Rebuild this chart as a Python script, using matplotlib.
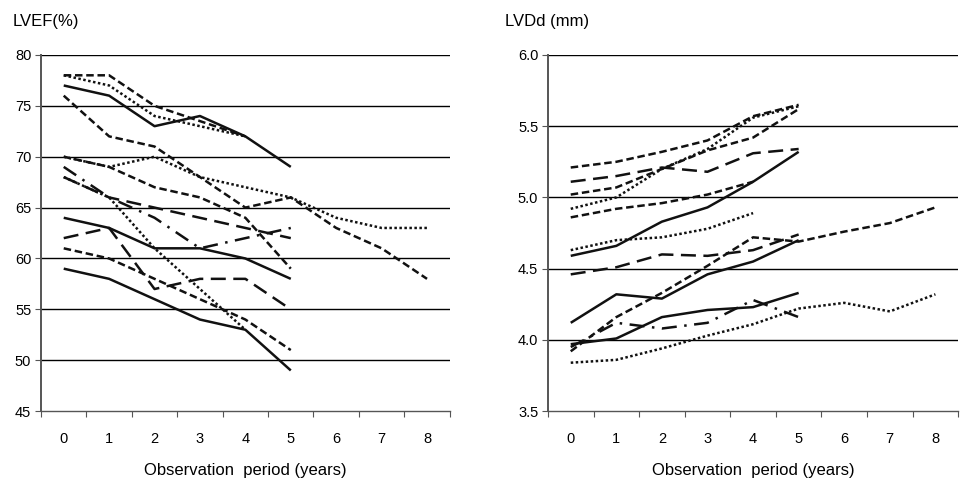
import numpy as np
import matplotlib.pyplot as plt

plt.rcParams['font.family'] = ['Liberation Sans', 'DejaVu Sans']

# =========================
# DADOS
# =========================
years = [0, 1, 2, 3, 4, 5, 6, 7, 8]

# LVEF (%) - cada paciente
ef_1 = [77, 76, 73, 74, 72, 69]
ef_2 = [78, 78, 75, 73.5, 72]
ef_3 = [78, 77, 74, 73, 72]
ef_4 = [76, 72, 71, 68, 65, 66, 63, 61, 58]
ef_5 = [70, 69, 67, 66, 64, 59]
ef_6 = [70, 69, 70, 68, 67, 66, 64, 63, 63]
ef_7 = [69, 66, 64, 61, 62, 63]
ef_8 = [68, 66, 65, 64, 63, 62]
ef_9 = [68, 66, 61, 57, 53]
ef_10 = [64, 63, 61, 61, 60, 58]
ef_11 = [62, 63, 57, 58, 58, 55]
ef_12 = [61, 60, 58, 56, 54, 51]
ef_13 = [59, 58, 56, 54, 53, 49]

# LVDd (mm)
dd_1 = [5.21, 5.25, 5.32, 5.40, 5.57, 5.65]
dd_2 = [5.11, 5.15, 5.21, 5.18, 5.31, 5.34]
dd_3 = [5.02, 5.07, 5.20, 5.33, 5.42, 5.62]
dd_4 = [4.92, 5.00, 5.20, 5.34, 5.56, 5.64]
dd_5 = [4.86, 4.92, 4.96, 5.02, 5.11]
dd_6 = [4.63, 4.70, 4.72, 4.78, 4.89]
dd_7 = [4.59, 4.66, 4.83, 4.93, 5.11, 5.32]
dd_8 = [4.46, 4.51, 4.60, 4.59, 4.63, 4.74]
dd_9 = [4.12, 4.32, 4.29, 4.46, 4.55, 4.70]
dd_10 = [3.97, 4.01, 4.16, 4.21, 4.23, 4.33]
dd_11 = [3.95, 4.12, 4.08, 4.12, 4.28, 4.16]
dd_12 = [3.92, 4.16, 4.33, 4.52, 4.72, 4.69, 4.76, 4.82, 4.93]
dd_13 = [3.84, 3.86, 3.94, 4.03, 4.11, 4.22, 4.26, 4.20, 4.32]

# estilos de linha
SOLID = '-'
DASH = (0, (3, 1.5))
LDASH = (0, (6, 3))
DOT = (0, (1, 1))
DDOT = (0, (6, 3, 1, 3))

ef_series = [
    (ef_1, SOLID), (ef_2, DASH), (ef_3, DOT), (ef_4, DASH), (ef_5, DASH),
    (ef_6, DOT), (ef_7, DDOT), (ef_8, LDASH), (ef_9, DOT), (ef_10, SOLID),
    (ef_11, LDASH), (ef_12, DASH), (ef_13, SOLID),
]
dd_series = [
    (dd_1, DASH), (dd_2, LDASH), (dd_3, DASH), (dd_4, DOT), (dd_5, DASH),
    (dd_6, DOT), (dd_7, SOLID), (dd_8, LDASH), (dd_9, SOLID), (dd_10, SOLID),
    (dd_11, DDOT), (dd_12, DASH), (dd_13, DOT),
]


# =========================
# FUNÇÃO DO PAINEL
# =========================
def painel(ax, series, ylim, yticks, fmt):
    for vals, ls in series:
        ax.plot(years[:len(vals)], vals, color='#111111', lw=1.8,
                linestyle=ls, solid_capstyle='butt', zorder=3)

    ax.set_xlim(-0.5, 8.5)
    ax.set_ylim(*ylim)
    ax.set_yticks(yticks)
    ax.set_yticklabels([fmt.format(v) for v in yticks], fontsize=10.5)
    for v in yticks[1:]:
        ax.axhline(v, color='black', lw=1.0, zorder=1)

    # ticks do eixo x entre as categorias
    ax.set_xticks(np.arange(-0.5, 9.0, 1.0))
    ax.set_xticklabels([])
    ax.set_xticks(years, minor=True)
    ax.set_xticklabels([str(y) for y in years], minor=True, fontsize=10.5)
    ax.tick_params(axis='x', which='minor', length=0, pad=15)
    ax.tick_params(axis='x', which='major', length=4, direction='out', color='#555555')
    ax.tick_params(axis='y', length=4, direction='out', color='#555555', pad=3)

    for s in ['top', 'right']:
        ax.spines[s].set_visible(False)
    ax.spines['left'].set_color('#555555')
    ax.spines['bottom'].set_color('#555555')
    ax.spines['left'].set_linewidth(1.4)
    ax.spines['bottom'].set_linewidth(1.0)

    ax.set_xlabel('Observation  period (years)', fontsize=12, labelpad=12)


fig = plt.figure(figsize=(9.63, 4.82), dpi=100)
ax1 = fig.add_axes([0.0426, 0.147, 0.4244, 0.739])
ax2 = fig.add_axes([0.569, 0.147, 0.426, 0.739])

painel(ax1, ef_series, (45, 80), [45, 50, 55, 60, 65, 70, 75, 80], '{:d}')
painel(ax2, dd_series, (3.5, 6.0), [3.5, 4.0, 4.5, 5.0, 5.5, 6.0], '{:.1f}')

fig.text(0.013, 0.955, 'LVEF(%)', fontsize=12, va='center', ha='left')
fig.text(0.524, 0.955, 'LVDd (mm)', fontsize=12, va='center', ha='left')

fig.savefig('out.png', dpi=100)
